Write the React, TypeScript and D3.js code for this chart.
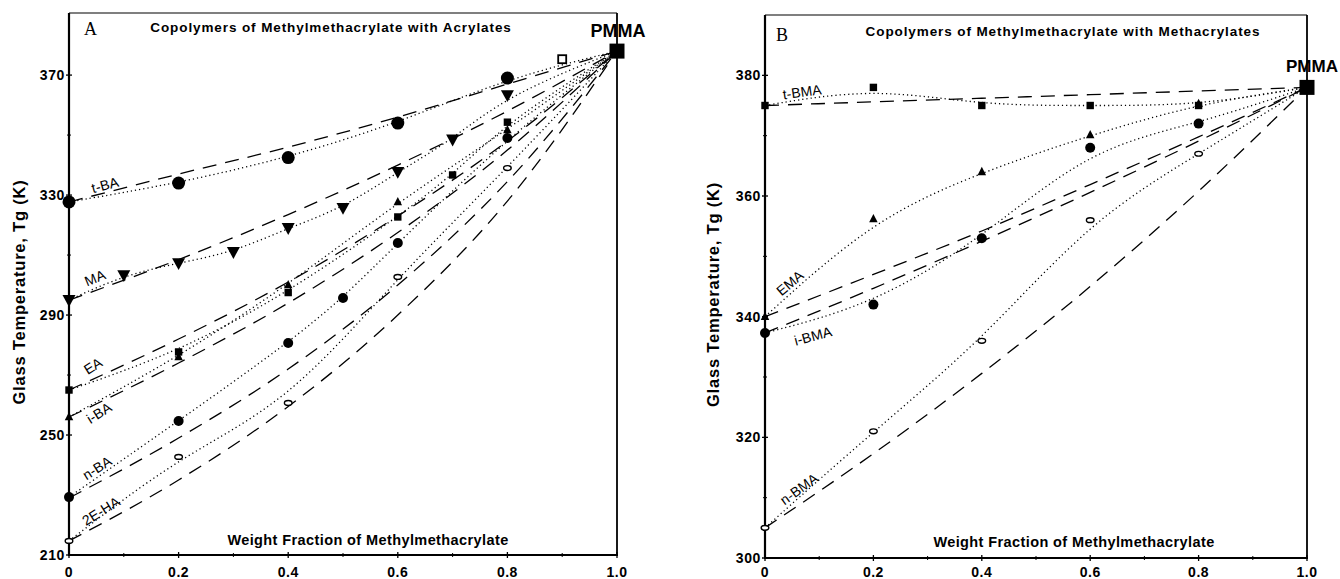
import React from 'react';
import * as d3 from 'd3';

// ---------- shared axis data ----------
const xTicks = [0, 0.2, 0.4, 0.6, 0.8, 1.0];
const xTickLabels = ['0', '0.2', '0.4', '0.6', '0.8', '1.0'];
const xMinorTicks = [0.1, 0.3, 0.5, 0.7, 0.9];

const aYTicks = [210, 250, 290, 330, 370];
const aYMinor = [230, 270, 310, 350];
const bYTicks = [300, 320, 340, 360, 380];
const bYMinor = [310, 330, 350, 370];

const PMMA_TG = 378;

// ---------- Panel A: acrylates (measured) ----------
const tBA_x = [0, 0.2, 0.4, 0.6, 0.8];
const tBA_y = [327.7, 334, 342.5, 354, 369];
const MA_x = [0, 0.1, 0.2, 0.3, 0.4, 0.5, 0.6, 0.7, 0.8];
const MA_y = [295, 303.3, 307.3, 311, 319, 325.7, 337.7, 348.5, 363.3];
const EA_x = [0, 0.2, 0.4, 0.6, 0.7, 0.8];
const EA_y = [265, 277.7, 297.5, 322.7, 336.7, 354.3];
const iBA_x = [0, 0.2, 0.4, 0.6, 0.8];
const iBA_y = [256, 276, 300, 327.7, 351.7];
const nBA_x = [0, 0.2, 0.4, 0.5, 0.6, 0.8];
const nBA_y = [229.3, 254.7, 280.7, 295.7, 314, 349];
const EHA_x = [0, 0.2, 0.4, 0.6, 0.8];
const EHA_y = [214.7, 242.7, 260.7, 302.7, 339];
const extraA_x = [0.9];
const extraA_y = [375.3];

// ---------- Panel A: dashed (theoretical) curves ----------
const dashX = [0, 0.2, 0.4, 0.6, 0.8, 1.0];
const tBA_dash = [327.7, 337, 346, 356, 367, 378];
const MA_dash = [295, 308.5, 323.5, 340, 358, 378];
const EA_dash = [265, 282, 301, 323, 348, 378];
const iBA_dash = [256, 274, 294, 317.5, 345, 378];
const nBA_dash = [229, 249, 272, 300, 334.5, 378];
const EHA_dash = [214.7, 235, 259.5, 290, 328, 378];

// ---------- Panel B: methacrylates (measured) ----------
const bX = [0, 0.2, 0.4, 0.6, 0.8];
const tBMA_y = [375, 378, 375, 375, 375];
const EMA_y = [340, 356.2, 364, 370.1, 375.3];
const iBMA_y = [337.3, 342, 353, 368, 372];
const nBMA_y = [305, 321, 336, 356, 367];

// ---------- Panel B: dashed curves ----------
const tBMA_dash = [375, 375.6, 376.2, 376.8, 377.4, 378];
const EMA_dash = [340, 347, 354.2, 361.9, 369.8, 378];
const iBMA_dash = [337.3, 344.7, 352.5, 360.6, 369.1, 378];
const nBMA_dash = [305, 317.3, 330.6, 345, 360.8, 378];

// ---------- labels ----------
const aNames = ['t-BA', 'MA', 'EA', 'i-BA', 'n-BA', '2E-HA'];
const bNames = ['t-BMA', 'EMA', 'i-BMA', 'n-BMA'];

type Marker = 'circleL' | 'triDownL' | 'square' | 'triUp' | 'circle' | 'ellipse' | 'openSquare';

interface Series {
  name: string;
  xs: number[];
  ys: number[];
  dash: number[];
  marker: Marker;
}

const seriesA: Series[] = [
  { name: aNames[0], xs: tBA_x, ys: tBA_y, dash: tBA_dash, marker: 'circleL' },
  { name: aNames[1], xs: MA_x, ys: MA_y, dash: MA_dash, marker: 'triDownL' },
  { name: aNames[2], xs: EA_x, ys: EA_y, dash: EA_dash, marker: 'square' },
  { name: aNames[3], xs: iBA_x, ys: iBA_y, dash: iBA_dash, marker: 'triUp' },
  { name: aNames[4], xs: nBA_x, ys: nBA_y, dash: nBA_dash, marker: 'circle' },
  { name: aNames[5], xs: EHA_x, ys: EHA_y, dash: EHA_dash, marker: 'ellipse' },
];

const seriesB: Series[] = [
  { name: bNames[0], xs: bX, ys: tBMA_y, dash: tBMA_dash, marker: 'square' },
  { name: bNames[1], xs: bX, ys: EMA_y, dash: EMA_dash, marker: 'triUp' },
  { name: bNames[2], xs: bX, ys: iBMA_y, dash: iBMA_dash, marker: 'circle' },
  { name: bNames[3], xs: bX, ys: nBMA_y, dash: nBMA_dash, marker: 'ellipse' },
];

// ---------- layout (pixels) ----------
const FONT = "Arial, 'Liberation Sans', Helvetica, sans-serif";

interface LabelPos { x: number; y: number; rot: number }

interface PanelLayout {
  left: number; right: number; top: number; bottom: number;
  yDomain: [number, number];
  yTicks: number[]; yMinor: number[];
  letter: string; letterX: number; letterY: number;
  title: string; titleX: number; titleY: number;
  pmmaX: number; pmmaY: number; pmmaSize: number;
  yLabelX: number;
  xLabelX: number; xLabelY: number;
  labelPos: LabelPos[];
}

const layoutA: PanelLayout = {
  left: 69, right: 617, top: 13, bottom: 555,
  yDomain: [210, 390.7],
  yTicks: aYTicks, yMinor: aYMinor,
  letter: 'A', letterX: 84, letterY: 35,
  title: 'Copolymers of Methylmethacrylate with Acrylates', titleX: 331, titleY: 32,
  pmmaX: 618, pmmaY: 37, pmmaSize: 18,
  yLabelX: 25,
  xLabelX: 368, xLabelY: 545,
  labelPos: [
    { x: 105, y: 185, rot: -15 },
    { x: 95, y: 278, rot: -22 },
    { x: 93, y: 366, rot: -32 },
    { x: 99, y: 413, rot: -32 },
    { x: 97, y: 468, rot: -32 },
    { x: 101, y: 511, rot: -32 },
  ],
};

const layoutB: PanelLayout = {
  left: 765, right: 1307, top: 15, bottom: 558,
  yDomain: [300, 390],
  yTicks: bYTicks, yMinor: bYMinor,
  letter: 'B', letterX: 776, letterY: 41,
  title: 'Copolymers of Methylmethacrylate with Methacrylates', titleX: 1063, titleY: 36,
  pmmaX: 1312, pmmaY: 72, pmmaSize: 17,
  yLabelX: 719,
  xLabelX: 1074, xLabelY: 547,
  labelPos: [
    { x: 802, y: 92, rot: -8 },
    { x: 790, y: 283, rot: -40 },
    { x: 813, y: 336, rot: -15 },
    { x: 799, y: 489, rot: -36 },
  ],
};

function MarkerShape({ type, cx, cy }: { type: Marker; cx: number; cy: number }) {
  switch (type) {
    case 'circleL':
      return <circle cx={cx} cy={cy} r={6.5} fill="#000" />;
    case 'triDownL': {
      const s = 13;
      return <path d={`M${cx - s / 2},${cy - s / 2.6} L${cx + s / 2},${cy - s / 2.6} L${cx},${cy + s / 1.9} Z`} fill="#000" />;
    }
    case 'square':
      return <rect x={cx - 3.7} y={cy - 3.7} width={7.4} height={7.4} fill="#000" />;
    case 'triUp': {
      const s = 8.5;
      return <path d={`M${cx - s / 2},${cy + s / 2.6} L${cx + s / 2},${cy + s / 2.6} L${cx},${cy - s / 1.7} Z`} fill="#000" />;
    }
    case 'circle':
      return <circle cx={cx} cy={cy} r={5} fill="#000" />;
    case 'ellipse':
      return <ellipse cx={cx} cy={cy} rx={3.8} ry={2.4} fill="#fff" stroke="#000" strokeWidth={1.4} />;
    case 'openSquare':
      return <rect x={cx - 4} y={cy - 4} width={8} height={8} fill="#fff" stroke="#000" strokeWidth={1.8} />;
  }
  return null;
}

function Panel({ L, series, extra }: { L: PanelLayout; series: Series[]; extra?: { xs: number[]; ys: number[] } }) {
  const x = d3.scaleLinear().domain([0, 1]).range([L.left, L.right]);
  const y = d3.scaleLinear().domain(L.yDomain).range([L.bottom, L.top]);

  const dotted = d3.line<[number, number]>().x(d => x(d[0])).y(d => y(d[1])).curve(d3.curveBasis);
  const dashed = d3.line<[number, number]>().x(d => x(d[0])).y(d => y(d[1])).curve(d3.curveMonotoneX);

  const pmmaPx = x(1);
  const pmmaPy = y(PMMA_TG);
  const yMid = (L.top + L.bottom) / 2 + 8;

  return (
    <g>
      {/* frame */}
      <line x1={L.left} x2={L.right} y1={L.top} y2={L.top} stroke="#000" strokeWidth={1.2} />
      <line x1={L.right} x2={L.right} y1={L.top} y2={L.bottom} stroke="#000" strokeWidth={1.8} />
      <line x1={L.left} x2={L.left} y1={L.top} y2={L.bottom + 1} stroke="#000" strokeWidth={2.2} />
      <line x1={L.left - 1} x2={L.right + 1} y1={L.bottom} y2={L.bottom} stroke="#000" strokeWidth={2.2} />

      {/* y ticks */}
      {L.yTicks.map(t => (
        <g key={'yt' + t}>
          <line x1={L.left - 3} x2={L.left + 3} y1={y(t)} y2={y(t)} stroke="#000" strokeWidth={1.3} />
          <text x={L.left - 4} y={y(t)} dy="0.36em" textAnchor="end" fontFamily={FONT} fontWeight="bold"
            fontSize={14} letterSpacing={0.6}>{t}</text>
        </g>
      ))}
      {L.yMinor.map(t => (
        <line key={'ym' + t} x1={L.left - 2} x2={L.left + 2} y1={y(t)} y2={y(t)} stroke="#000" strokeWidth={1} />
      ))}

      {/* x ticks */}
      {xTicks.map((t, i) => (
        <g key={'xt' + t}>
          <line x1={x(t)} x2={x(t)} y1={L.bottom - 3} y2={L.bottom + 3} stroke="#000" strokeWidth={1.3} />
          <text x={x(t)} y={577} textAnchor="middle" fontFamily={FONT} fontWeight="bold" fontSize={14}
            letterSpacing={0.5}>{xTickLabels[i]}</text>
        </g>
      ))}
      {xMinorTicks.map(t => (
        <line key={'xm' + t} x1={x(t)} x2={x(t)} y1={L.bottom - 2} y2={L.bottom + 2} stroke="#000" strokeWidth={1} />
      ))}

      {/* dashed curves */}
      {series.map(s => (
        <path key={'d' + s.name} d={dashed(dashX.map((xx, i) => [xx, s.dash[i]] as [number, number])) || ''}
          fill="none" stroke="#000" strokeWidth={1.3} strokeDasharray="14,9" />
      ))}

      {/* dotted fits */}
      {series.map(s => {
        const pts: [number, number][] = s.xs.map((xx, i) => [xx, s.ys[i]] as [number, number]);
        pts.push([1, PMMA_TG]);
        return (
          <path key={'f' + s.name} d={dotted(pts) || ''} fill="none" stroke="#000" strokeWidth={1.3}
            strokeDasharray="1.2,3" />
        );
      })}

      {/* markers */}
      {series.map(s => (
        <g key={'m' + s.name}>
          {s.xs.map((xx, i) => (
            <MarkerShape key={i} type={s.marker} cx={x(xx)} cy={y(s.ys[i])} />
          ))}
        </g>
      ))}
      {extra && extra.xs.map((xx, i) => (
        <MarkerShape key={'e' + i} type="openSquare" cx={x(xx)} cy={y(extra.ys[i])} />
      ))}

      {/* PMMA end point */}
      <rect x={pmmaPx - 7.5} y={pmmaPy - 7.5} width={15} height={15} fill="#000" />
      <text x={L.pmmaX} y={L.pmmaY} textAnchor="middle" fontFamily={FONT} fontWeight="bold" fontSize={L.pmmaSize}>PMMA</text>

      {/* series labels */}
      {series.map((s, i) => (
        <text key={'l' + s.name} transform={`translate(${L.labelPos[i].x},${L.labelPos[i].y}) rotate(${L.labelPos[i].rot})`}
          textAnchor="middle" dy="0.35em" fontFamily={FONT} fontSize={14}>{s.name}</text>
      ))}

      {/* titles */}
      <text x={L.letterX} y={L.letterY} fontFamily="'Liberation Serif', 'DejaVu Serif', serif" fontSize={18}>{L.letter}</text>
      <text x={L.titleX} y={L.titleY} textAnchor="middle" fontFamily={FONT} fontWeight="bold" fontSize={13.5}
        letterSpacing={0.9}>{L.title}</text>
      <text x={L.xLabelX} y={L.xLabelY} textAnchor="middle" fontFamily={FONT} fontWeight="bold" fontSize={14.5}
        letterSpacing={0.4}>Weight Fraction of Methylmethacrylate</text>
      <text transform={`translate(${L.yLabelX},${yMid}) rotate(-90)`} textAnchor="middle" fontFamily={FONT}
        fontWeight="bold" fontSize={16.5} letterSpacing={0.8}>Glass Temperature, Tg  (K)</text>
    </g>
  );
}

export default function App() {
  return (
    <svg width={1340} height={579} viewBox="0 0 1340 579" style={{ position: 'absolute', left: 0, top: 0, background: '#fff' }}>
      <rect x={0} y={0} width={1340} height={579} fill="#fff" />
      <Panel L={layoutA} series={seriesA} extra={{ xs: extraA_x, ys: extraA_y }} />
      <Panel L={layoutB} series={seriesB} />
    </svg>
  );
}
